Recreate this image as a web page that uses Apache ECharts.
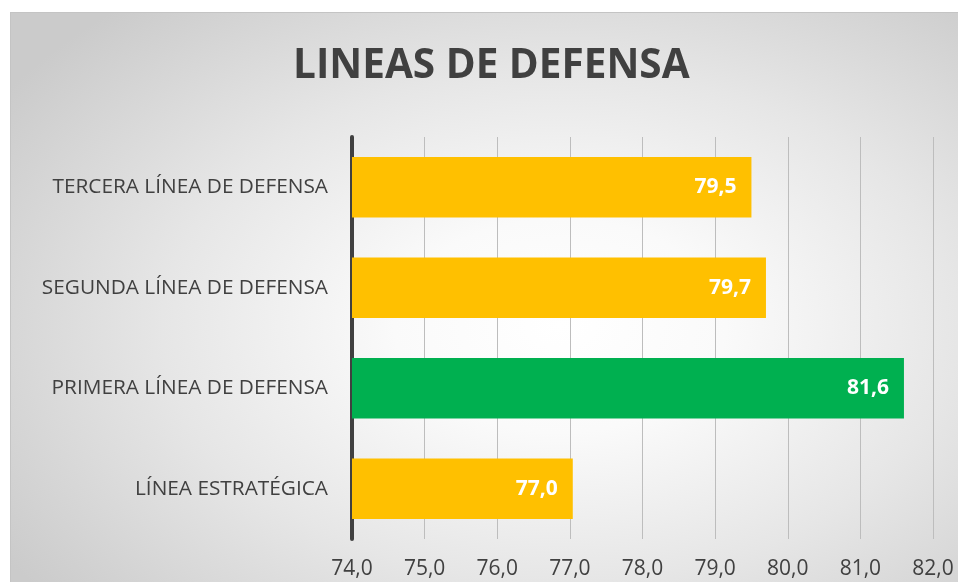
<!DOCTYPE html>
<html>
<head>
<meta charset="utf-8">
<script src="https://cdn.jsdelivr.net/npm/echarts@6/dist/echarts.min.js"></script>
<style>
html,body{margin:0;padding:0;width:958px;height:582px;overflow:hidden;background:#fff;}
#bg{position:absolute;left:10px;top:12px;width:948px;height:570px;box-sizing:border-box;border-top:1px solid #c4c4c4;border-left:1px solid #c4c4c4;
background:radial-gradient(ellipse 70% 75% at 58% 55%, #ffffff 0%, #fafafa 25%, #e6e6e6 60%, #cbcbcb 100%);}
#chart{position:absolute;left:0;top:0;width:958px;height:582px;}
</style>
</head>
<body>
<div id="bg"></div>
<div id="chart"></div>
<script>
var title = 'LINEAS DE DEFENSA';
var categories = ['LÍNEA ESTRATÉGICA', 'PRIMERA LÍNEA DE DEFENSA', 'SEGUNDA LÍNEA DE DEFENSA', 'TERCERA LÍNEA DE DEFENSA'];
var values = [77.04, 81.6, 79.7, 79.5];
var barColors = ['#FFC000', '#00B050', '#FFC000', '#FFC000'];
var xMin = 74, xMax = 82, xStep = 1;

function fmt(v){ return Number(v).toFixed(1).replace('.', ','); }

var chart = echarts.init(document.getElementById('chart'), null, {renderer:'canvas'});
chart.setOption({
  backgroundColor: 'transparent',
  animation: false,
  textStyle: {fontFamily: '"Open Sans", sans-serif'},
  title: {
    text: title, left: 288, top: 41,
    textStyle: {fontFamily: '"Open Sans", sans-serif', fontSize: 40.5, fontWeight: 'bold', color: '#404040'}
  },
  grid: {left: 352, right: 25, top: 137, bottom: 43, containLabel: false},
  xAxis: {
    type: 'value', min: xMin, max: xMax, interval: xStep,
    axisLine: {show: false}, axisTick: {show: false},
    splitLine: {show: true, lineStyle: {color: '#bdbdbd', width: 1}},
    axisLabel: {formatter: fmt, color: '#404040', fontSize: 21, margin: 20, fontFamily: '"Open Sans", sans-serif'}
  },
  yAxis: {
    type: 'category', data: categories,
    axisLine: {show: true, lineStyle: {color: '#404040', width: 4}},
    axisTick: {show: false},
    axisLabel: {color: '#404040', fontSize: 20.8, margin: 24, fontFamily: '"Open Sans", sans-serif'}
  },
  series: [{
    type: 'bar',
    data: values.map(function(v, i){ return {value: v, itemStyle: {color: barColors[i]}}; }),
    barCategoryGap: '40%',
    label: {
      show: true, position: 'insideRight', distance: 15,
      formatter: function(p){ return fmt(p.value); },
      color: '#ffffff', fontSize: 21, fontWeight: 'bold', fontFamily: '"Open Sans", sans-serif'
    }
  }]
});
</script>
</body>
</html>
